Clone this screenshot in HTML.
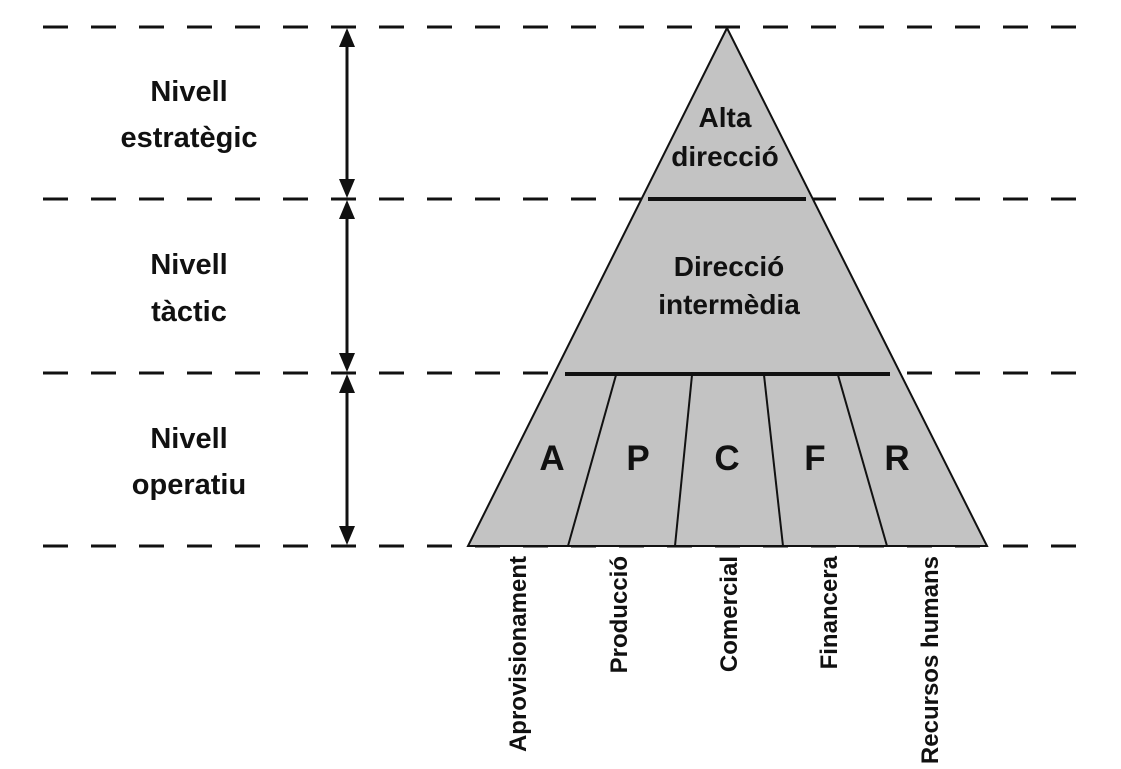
<!DOCTYPE html>
<html><head><style>body{margin:0;background:#fff}svg{display:block}</style></head><body>
<svg width="1121" height="769" viewBox="0 0 1121 769" xmlns="http://www.w3.org/2000/svg" font-family="Liberation Sans, Arial, sans-serif" font-weight="bold">
<g stroke="#111" stroke-width="3" stroke-dasharray="25 23">
<line x1="43" y1="27" x2="1085" y2="27"/>
<line x1="43" y1="199" x2="1085" y2="199"/>
<line x1="43" y1="373" x2="1085" y2="373"/>
<line x1="43" y1="546" x2="1085" y2="546"/>
</g>
<polygon points="727,28 468,546 987,546" fill="#c3c3c3" stroke="#111" stroke-width="2"/>
<g stroke="#111" stroke-width="4">
<line x1="648" y1="199" x2="806" y2="199"/>
<line x1="565" y1="374" x2="890" y2="374"/>
</g>
<g stroke="#111" stroke-width="2">
<line x1="616" y1="375" x2="568" y2="546"/>
<line x1="692" y1="375" x2="675" y2="546"/>
<line x1="764" y1="375" x2="783" y2="546"/>
<line x1="838" y1="375" x2="887" y2="546"/>
</g>
<g stroke="#111" stroke-width="3">
<line x1="347" y1="40" x2="347" y2="186"/>
<line x1="347" y1="212" x2="347" y2="360"/>
<line x1="347" y1="386" x2="347" y2="533"/>
</g>
<g fill="#111">
<polygon points="347,28 339,47 355,47"/><polygon points="347,198 339,179 355,179"/>
<polygon points="347,200 339,219 355,219"/><polygon points="347,372 339,353 355,353"/>
<polygon points="347,374 339,393 355,393"/><polygon points="347,545 339,526 355,526"/>
</g>
<g font-size="29" text-anchor="middle" fill="#111">
<text x="189" y="101">Nivell</text><text x="189" y="147">estratègic</text>
<text x="189" y="274">Nivell</text><text x="189" y="321">tàctic</text>
<text x="189" y="448">Nivell</text><text x="189" y="494">operatiu</text>
<text x="725" y="127" font-size="28">Alta</text><text x="725" y="166" font-size="28">direcció</text>
<text x="729" y="276" font-size="28">Direcció</text><text x="729" y="314" font-size="28">intermèdia</text>
<g font-size="35"><text x="552" y="470">A</text><text x="638" y="470">P</text><text x="727" y="470">C</text><text x="815" y="470">F</text><text x="897" y="470">R</text></g>
</g>
<g font-size="24" text-anchor="end" fill="#111">
<text transform="translate(526,556) rotate(-90)">Aprovisionament</text>
<text transform="translate(627,556) rotate(-90)">Producció</text>
<text transform="translate(737,556) rotate(-90)">Comercial</text>
<text transform="translate(837,556) rotate(-90)">Financera</text>
<text transform="translate(938,556) rotate(-90)">Recursos humans</text>
</g>
</svg>
</body></html>
